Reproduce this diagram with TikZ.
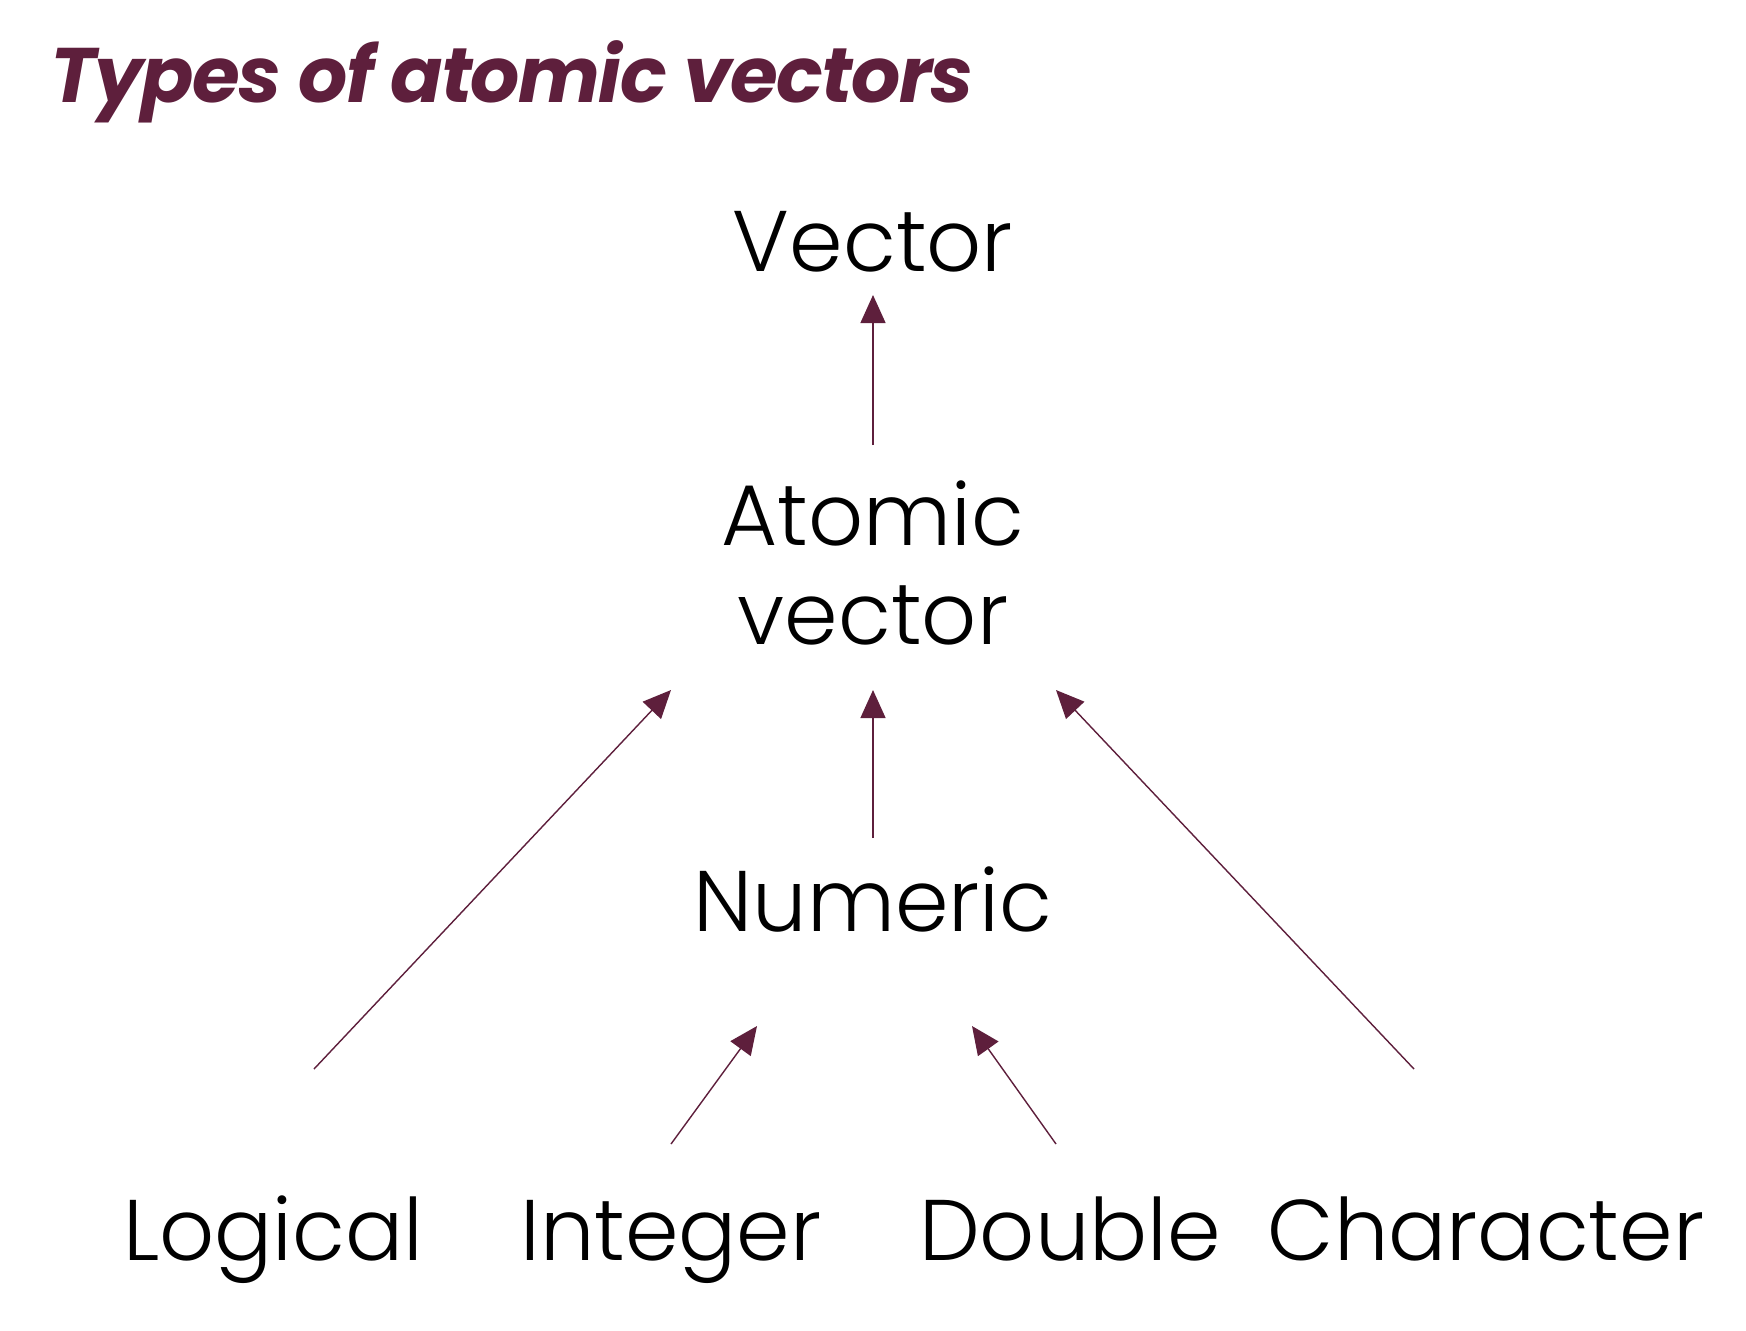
\documentclass[tikz,border=0pt]{standalone}
\usepackage{fontspec}
\setmainfont{Poppins}[UprightFont=* Light]
\newfontfamily\titlefont{Poppins}[UprightFont=* Bold Italic,LetterSpace=-2.0]
\usetikzlibrary{arrows.meta}
\definecolor{wine}{HTML}{5E1F3C}

\begin{document}
\begin{tikzpicture}[x=0.02cm,y=-0.02cm,
  lbl/.style={anchor=base,inner sep=0pt,font=\fontsize{49}{55.8}\selectfont},
  up/.style={draw=wine,line width=0.8pt,-{Triangle[length=0.56cm,width=0.5cm]}}]
\useasboundingbox (0,0) rectangle (1746,1330);
\node[anchor=base west,inner sep=0pt,text=wine,font=\titlefont\fontsize{44}{50}\selectfont] (title) at (50,102) {Types of atomic vectors};

\node[lbl] (vec) at (873,271) {Vector};
\node[lbl,align=center] (atom) at (873,644) {Atomic\\vector};
\node[lbl] (num) at (873,931) {Numeric};
\node[lbl] (logi) at (273,1260) {Logical};
\node[lbl] (intg) at (671,1260) {Integer};
\node[lbl] (dbl) at (1070,1260) {Double};
\node[lbl] (chr) at (1486,1260) {Character};

% arrow ends
\coordinate (a1) at (873,445);  \coordinate (v1) at (873,295);
\coordinate (l1) at (314,1069); \coordinate (t1) at (671,690);
\coordinate (n1) at (873,838);  \coordinate (t2) at (873,690);
\coordinate (c1) at (1414,1069);\coordinate (t3) at (1056,690);
\coordinate (i1) at (671,1144); \coordinate (t4) at (757,1026);
\coordinate (d1) at (1056,1144);\coordinate (t5) at (972,1026);

\draw[up] (a1)--(v1);
\draw[up] (l1)--(t1);
\draw[up] (n1)--(t2);
\draw[up] (c1)--(t3);
\draw[up] (i1)--(t4);
\draw[up] (d1)--(t5);
\end{tikzpicture}
\end{document}
